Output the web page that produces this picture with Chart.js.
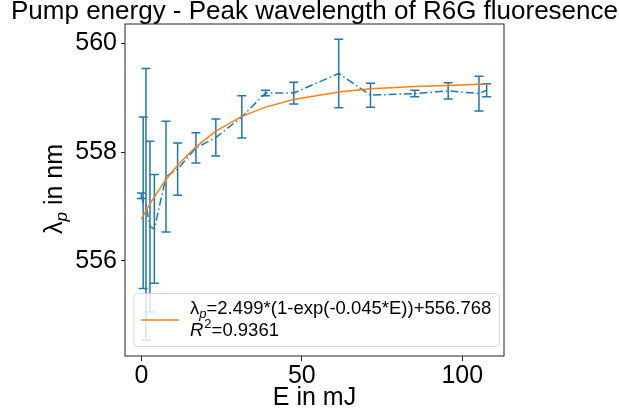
<!DOCTYPE html>
<html lang="en">
  <head>
    <meta charset="UTF-8" />
    <title>Pump energy - Peak wavelength</title>
    <script src="https://cdn.jsdelivr.net/npm/chart.js"></script>
    <style>
      body { margin: 0; background: #fff; }
    </style>
  </head>
  <body>
    <canvas id="peakChart" width="619" height="417"></canvas>

    <script>
      // measured pump energies (mJ) and peak wavelengths (nm)
      const energy = [0, 0.56, 1.43, 2.68, 4.05, 7.67, 11.3, 17.0, 23.2, 31.3, 38.7, 47.5, 61.5, 71.4, 85.2, 95.6, 105.2, 107.6];
      const peak = [557.2, 557.07, 557.04, 556.63, 556.59, 557.55, 557.69, 558.08, 558.27, 558.65, 559.09, 559.09, 559.45, 559.05, 559.08, 559.13, 559.08, 559.14];
      const peakErr = [0.05, 1.58, 2.5, 1.57, 1.0, 1.02, 0.48, 0.28, 0.34, 0.39, 0.05, 0.2, 0.63, 0.22, 0.06, 0.15, 0.32, 0.12];
      // fitted curve read at the same energies
      const fitPeak = [556.77, 556.83, 556.92, 557.05, 557.18, 557.5, 557.76, 558.1, 558.39, 558.66, 558.83, 558.97, 559.11, 559.17, 559.21, 559.23, 559.25, 559.25];

      const xTicks = [0, 50, 100];
      const yTicks = [556, 558, 560];

      const FONT = "'Liberation Sans', Arial, sans-serif";
      const BLUE = "#1f77b4";
      const ORANGE = "#ff7f0e";

      const extras = {
        id: "extras",
        beforeDatasetsDraw(chart) {
          const { ctx, scales } = chart;
          ctx.save();
          ctx.strokeStyle = BLUE;
          ctx.lineWidth = 1.5;
          for (let i = 0; i < energy.length; i++) {
            const px = scales.x.getPixelForValue(energy[i]);
            const top = scales.y.getPixelForValue(peak[i] + peakErr[i]);
            const bot = scales.y.getPixelForValue(peak[i] - peakErr[i]);
            ctx.beginPath();
            ctx.moveTo(px, top);
            ctx.lineTo(px, bot);
            ctx.moveTo(px - 4.5, top);
            ctx.lineTo(px + 4.5, top);
            ctx.moveTo(px - 4.5, bot);
            ctx.lineTo(px + 4.5, bot);
            ctx.stroke();
          }
          ctx.restore();
        },
        afterDraw(chart) {
          const { ctx, chartArea: a } = chart;
          ctx.save();

          // axes frame
          ctx.strokeStyle = "#222";
          ctx.lineWidth = 1;
          ctx.strokeRect(a.left, a.top, a.right - a.left, a.bottom - a.top);

          // y axis label with subscript
          ctx.fillStyle = "#000";
          ctx.textBaseline = "alphabetic";
          ctx.translate(62, 189);
          ctx.rotate(-Math.PI / 2);
          ctx.font = "25px " + FONT;
          const wL = ctx.measureText("λ").width;
          const wRest = ctx.measureText(" in nm").width;
          ctx.font = "italic 17px " + FONT;
          const wP = ctx.measureText("p").width;
          let x0 = -(wL + wP + wRest) / 2;
          ctx.font = "25px " + FONT;
          ctx.fillText("λ", x0, 0);
          ctx.font = "italic 17px " + FONT;
          ctx.fillText("p", x0 + wL, 5);
          ctx.font = "25px " + FONT;
          ctx.fillText(" in nm", x0 + wL + wP, 0);
          ctx.setTransform(1, 0, 0, 1, 0, 0);

          // legend
          ctx.beginPath();
          ctx.roundRect(134, 293.5, 365.5, 53, 3);
          ctx.fillStyle = "rgba(255,255,255,0.8)";
          ctx.fill();
          ctx.strokeStyle = "rgba(204,204,204,0.8)";
          ctx.lineWidth = 1;
          ctx.stroke();

          ctx.beginPath();
          ctx.moveTo(141, 320);
          ctx.lineTo(179, 320);
          ctx.strokeStyle = ORANGE;
          ctx.lineWidth = 1.5;
          ctx.stroke();

          ctx.fillStyle = "#000";
          let tx = 190;
          ctx.font = "18.5px " + FONT;
          ctx.fillText("λ", tx, 314);
          tx += ctx.measureText("λ").width;
          ctx.font = "italic 13px " + FONT;
          ctx.fillText("p", tx, 318);
          tx += ctx.measureText("p").width;
          ctx.font = "18.5px " + FONT;
          ctx.fillText("=2.499*(1-exp(-0.045*E))+556.768", tx, 314);

          tx = 190;
          ctx.font = "italic 18.5px " + FONT;
          ctx.fillText("R", tx, 335.5);
          tx += ctx.measureText("R").width + 1;
          ctx.font = "13px " + FONT;
          ctx.fillText("2", tx, 328);
          tx += ctx.measureText("2").width;
          ctx.font = "18.5px " + FONT;
          ctx.fillText("=0.9361", tx, 335.5);

          ctx.restore();
        },
      };

      const tickFont = { family: FONT, size: 25 };

      new Chart(document.getElementById("peakChart"), {
        type: "line",
        data: {
          datasets: [
            {
              label: "fit",
              data: energy.map((e, i) => ({ x: e, y: fitPeak[i] })),
              borderColor: ORANGE,
              borderWidth: 1.5,
              pointRadius: 0,
              tension: 0,
            },
            {
              label: "measured",
              data: energy.map((e, i) => ({ x: e, y: peak[i] })),
              borderColor: BLUE,
              borderWidth: 1.5,
              borderDash: [8, 3, 1.5, 3],
              pointRadius: 0,
              tension: 0,
            },
          ],
        },
        options: {
          responsive: false,
          animation: false,
          layout: { padding: { left: 10, right: 0, top: 0, bottom: 0 } },
          plugins: {
            legend: { display: false },
            tooltip: { enabled: false },
            title: {
              display: true,
              text: "Pump energy - Peak wavelength of R6G fluoresence",
              color: "#000",
              font: { family: FONT, size: 26, weight: "normal", lineHeight: "24px" },
              padding: { top: 0, bottom: 0 },
            },
          },
          scales: {
            x: {
              type: "linear",
              min: -5.1,
              max: 113,
              afterBuildTicks: (s) => { s.ticks = xTicks.map((v) => ({ value: v })); },
              afterFit: (s) => { s.height = 61; },
              ticks: { font: tickFont, color: "#000", padding: 0, maxRotation: 0 },
              grid: { drawOnChartArea: false, tickLength: 5, tickColor: "#222" },
              border: { display: false },
              title: {
                display: true,
                text: "E in mJ",
                color: "#000",
                font: tickFont,
                padding: { top: 0, bottom: 4 },
              },
            },
            y: {
              type: "linear",
              min: 554.25,
              max: 560.36,
              afterBuildTicks: (s) => { s.ticks = yTicks.map((v) => ({ value: v })); },
              afterFit: (s) => { s.width = 115; },
              ticks: { font: tickFont, color: "#000", padding: 4 },
              grid: { drawOnChartArea: false, tickLength: 4, tickColor: "#222" },
              border: { display: false },
            },
            // empty right margin so the title keeps the full canvas width
            yRight: {
              type: "linear",
              position: "right",
              afterFit: (s) => { s.width = 115; },
              ticks: { display: false },
              grid: { display: false },
              border: { display: false },
            },
          },
        },
        plugins: [extras],
      });
    </script>
  </body>
</html>
